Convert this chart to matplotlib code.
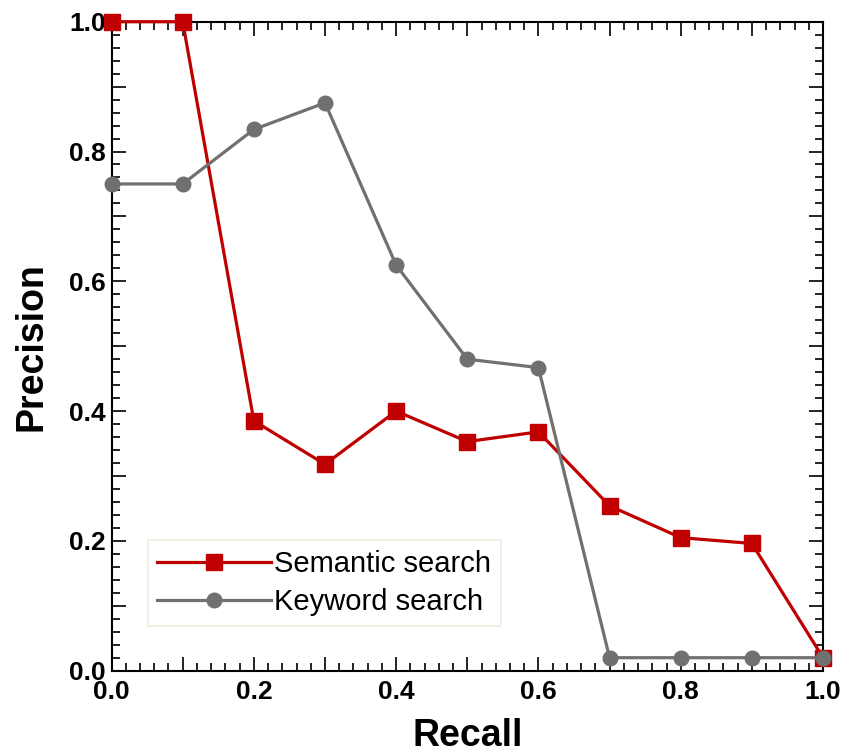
import numpy as np
import matplotlib
matplotlib.use("Agg")
import matplotlib.pyplot as plt
from matplotlib.ticker import MultipleLocator, FuncFormatter

plt.rcParams['font.family'] = ['Liberation Sans', 'DejaVu Sans']

# Recall levels
recall = [0.0, 0.1, 0.2, 0.3, 0.4, 0.5, 0.6, 0.7, 0.8, 0.9, 1.0]

# Precision values
semantic = [1.0, 1.0, 0.385, 0.318, 0.4, 0.353, 0.368, 0.254, 0.205, 0.196, 0.02]
keyword = [0.75, 0.75, 0.834, 0.875, 0.625, 0.48, 0.467, 0.02, 0.02, 0.02, 0.02]

fig = plt.figure(figsize=(8.45, 7.54), dpi=100)
ax = fig.add_axes([0.132, 0.1105, 0.842, 0.8607])

ax.plot(recall, semantic, color='#C00000', lw=2.3, marker='s', ms=11,
        label='Semantic search', clip_on=False, zorder=3)
ax.plot(recall, keyword, color='#707070', lw=2.3, marker='o', ms=10.5,
        label='Keyword search', clip_on=False, zorder=4)

ax.set_xlim(0, 1)
ax.set_ylim(0, 1)

# ticks every 0.1 (long), labels every 0.2, minor every 0.02
lab = FuncFormatter(lambda v, p: ('%.1f' % v) if round(v * 10) % 2 == 0 else '')
for a in (ax.xaxis, ax.yaxis):
    a.set_major_locator(MultipleLocator(0.1))
    a.set_minor_locator(MultipleLocator(0.02))
    a.set_major_formatter(lab)

ax.tick_params(which='both', direction='in', top=True, right=True, width=1.2)
ax.tick_params(which='major', length=10, labelsize=19)
ax.tick_params(axis='x', which='major', pad=7)
ax.tick_params(axis='y', which='major', pad=4)
ax.tick_params(which='minor', length=6)
for t in ax.get_xticklabels() + ax.get_yticklabels():
    t.set_fontweight('bold')
for s in ax.spines.values():
    s.set_linewidth(1.5)

ax.set_xlabel('Recall', fontsize=27, fontweight='bold', labelpad=10)
ax.set_ylabel('Precision', fontsize=27, fontweight='bold', labelpad=14)

leg = ax.legend(loc='lower left', bbox_to_anchor=(0.051, 0.069), fontsize=21,
                frameon=True, fancybox=False, handlelength=3.9,
                borderpad=0.33, labelspacing=0.35, handletextpad=0.1,
                borderaxespad=0)
leg.get_frame().set_edgecolor('#EEEAD8')
leg.get_frame().set_linewidth(1.2)

plt.savefig('out.png', dpi=100)
